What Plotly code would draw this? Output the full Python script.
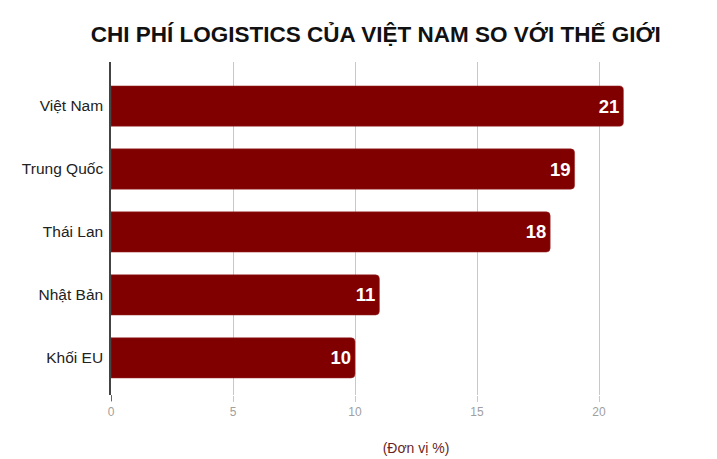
import plotly.graph_objects as go

categories = ["Việt Nam", "Trung Quốc", "Thái Lan", "Nhật Bản", "Khối EU"]
values = [21, 19, 18, 11, 10]
x_ticks = [0, 5, 10, 15, 20, 25]

fig = go.Figure(go.Bar(
    x=values, y=categories, orientation="h",
    marker=dict(color="#800000", line=dict(color="#9a2a2a", width=0.5), cornerradius=4),
    text=[str(v) for v in values], textposition="inside", insidetextanchor="end",
    textfont=dict(family="Liberation Sans, Arial", size=18.5, color="white", weight="bold"),
    width=0.64,
))

fig.update_layout(
    width=717, height=459,
    margin=dict(l=103, r=4, t=54, b=72),
    paper_bgcolor="white", plot_bgcolor="white",
    showlegend=False,
    title=dict(text="<b>CHI PHÍ LOGISTICS CỦA VIỆT NAM SO VỚI THẾ GIỚI</b>",
               x=0.513, xanchor="center", y=0.943, yanchor="middle",
               font=dict(family="Liberation Sans, Arial", size=22.5, color="#111")),
    xaxis=dict(range=[0, 25], tickvals=x_ticks, showgrid=True, gridcolor="#c8c8c8", gridwidth=1,
               zeroline=False, ticks="outside", ticklen=6, tickcolor="#c8c8c8", automargin=False,
               tickfont=dict(family="Liberation Sans, Arial", size=12, color="#a0a0a0"),
               title=dict(text="(Đơn vị %)", standoff=24,
                          font=dict(family="Liberation Sans, Arial", size=14, color="#6b1f1f"))),
    yaxis=dict(categoryorder="array", categoryarray=categories[::-1], range=[-0.59, 4.70],
               showline=True, linecolor="#444", linewidth=1.5, ticks="", ticklen=0, automargin=False,
               ticklabelstandoff=3,
               tickfont=dict(family="Liberation Sans, Arial", size=15.5, color="#222"),
               showgrid=False),
)
fig.add_shape(type="line", xref="x", yref="paper", x0=0, x1=0, y0=0, y1=-0.018,
              line=dict(color="#444", width=1.5))

fig.write_html("out.html")
